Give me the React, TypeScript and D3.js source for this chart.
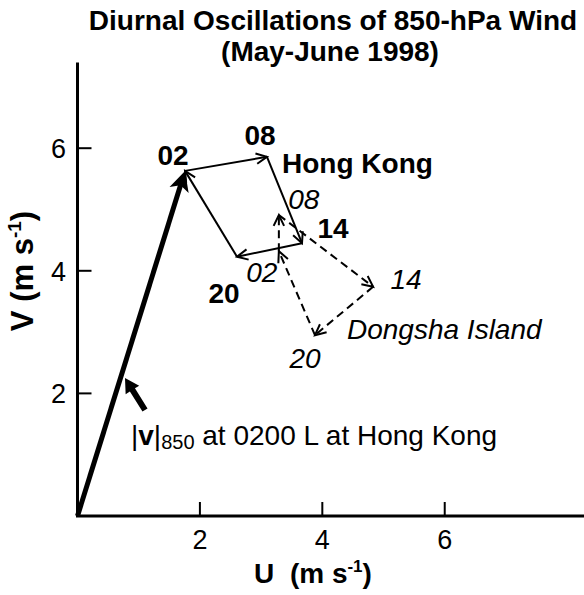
import React from "react";
import * as d3 from "d3";

const W = 584;
const H = 595;

// Hong Kong hodograph (solid), local times
const hkTimes = ["02", "08", "14", "20"];
const hkU = [1.757, 3.096, 3.668, 2.606];
const hkV = [5.63, 5.86, 4.45, 4.23];
// Dongsha Island hodograph (dashed)
const dsTimes = ["02", "08", "14", "20"];
const dsU = [3.29, 3.29, 4.83, 3.88];
const dsV = [4.32, 4.91, 3.74, 2.95];

const xTicks = [2, 4, 6];
const yTicks = [2, 4, 6];

// annotation pointer (data units): tail -> tip
const pointerTail = [1.103, 1.729];
const pointerTip = [0.776, 2.251];

const FONT = "'Liberation Sans', Arial, Helvetica, sans-serif";

type P = [number, number];

function vHead(tip: P, from: P, len = 12, ang = 0.45): string {
  const a = Math.atan2(from[1] - tip[1], from[0] - tip[0]);
  const p1: P = [tip[0] + len * Math.cos(a + ang), tip[1] + len * Math.sin(a + ang)];
  const p2: P = [tip[0] + len * Math.cos(a - ang), tip[1] + len * Math.sin(a - ang)];
  return `M${p1[0]},${p1[1]}L${tip[0]},${tip[1]}L${p2[0]},${p2[1]}`;
}

function filledHead(tip: P, from: P, len: number, half: number, notch: number): string {
  const a = Math.atan2(tip[1] - from[1], tip[0] - from[0]);
  const ux = Math.cos(a), uy = Math.sin(a);
  const nx = -uy, ny = ux;
  const bx = tip[0] - ux * len, by = tip[1] - uy * len;
  const cx = tip[0] - ux * (len - notch), cy = tip[1] - uy * (len - notch);
  return `M${tip[0]},${tip[1]}L${bx + nx * half},${by + ny * half}L${cx},${cy}L${bx - nx * half},${by - ny * half}Z`;
}

function fatArrow(tail: P, tip: P, shaftHalf: number, headLen: number, headHalf: number): string {
  const a = Math.atan2(tip[1] - tail[1], tip[0] - tail[0]);
  const ux = Math.cos(a), uy = Math.sin(a);
  const nx = -uy, ny = ux;
  const hx = tip[0] - ux * headLen, hy = tip[1] - uy * headLen;
  const pts: P[] = [
    [tail[0] + nx * shaftHalf, tail[1] + ny * shaftHalf],
    [hx + nx * shaftHalf, hy + ny * shaftHalf],
    [hx + nx * headHalf, hy + ny * headHalf],
    tip,
    [hx - nx * headHalf, hy - ny * headHalf],
    [hx - nx * shaftHalf, hy - ny * shaftHalf],
    [tail[0] - nx * shaftHalf, tail[1] - ny * shaftHalf],
  ];
  return "M" + pts.map((p) => p.join(",")).join("L") + "Z";
}

const hkLabelOff: P[] = [[-12, -6], [-7, -12], [31, -5], [-13, 46]];
const dsLabelOff: P[] = [[-17, 31], [25, -6], [33, 2], [-10, 33]];

export default function App() {
  const x = d3.scaleLinear().domain([0, 8.3]).range([77.5, 585.5]);
  const y = d3.scaleLinear().domain([0, 7.4]).range([516, 516 - 7.4 * 61.3]);

  const hk: P[] = hkU.map((u, i) => [x(u), y(hkV[i])]);
  const ds: P[] = dsU.map((u, i) => [x(u), y(dsV[i])]);
  const origin: P = [x(0), y(0)];

  const segs = (pts: P[]) => pts.map((p, i) => [p, pts[(i + 1) % pts.length]] as [P, P]);

  return (
    <svg width={W} height={H} style={{ display: "block", position: "absolute", left: 0, top: 0, background: "#fff" }}
      fontFamily={FONT}>
      <rect width={W} height={H} fill="#fff" />
      {/* Title */}
      <text x={333} y={30} textAnchor="middle" fontSize={28} fontWeight="bold">
        Diurnal Oscillations of 850-hPa Wind
      </text>
      <text x={330} y={61} textAnchor="middle" fontSize={28} fontWeight="bold">
        (May-June 1998)
      </text>

      {/* Axes */}
      <line x1={x(0)} y1={y(0)} x2={x(0)} y2={y(7.4)} stroke="#000" strokeWidth={3} />
      <line x1={x(0) - 1.5} y1={y(0)} x2={x(8.3)} y2={y(0)} stroke="#000" strokeWidth={3} />
      {xTicks.map((t) => (
        <g key={"xt" + t}>
          <line x1={x(t)} x2={x(t)} y1={y(0)} y2={y(0) - 14} stroke="#000" strokeWidth={2} />
          <text x={x(t)} y={549} textAnchor="middle" fontSize={27}>{t}</text>
        </g>
      ))}
      {yTicks.map((t) => (
        <g key={"yt" + t}>
          <line x1={x(0)} x2={x(0) + 14} y1={y(t)} y2={y(t)} stroke="#000" strokeWidth={2} />
          <text x={66} y={y(t) + 10} textAnchor="end" fontSize={27}>{t}</text>
        </g>
      ))}
      {/* Axis titles */}
      <text x={313} y={583} textAnchor="middle" fontSize={28} fontWeight="bold">
        U{"\u00a0\u00a0"}(m s<tspan fontSize={17} dy={-11}>-1</tspan><tspan dy={11}>)</tspan>
      </text>
      <text transform={`translate(33,271) rotate(-90)`} textAnchor="middle" fontSize={31} fontWeight="bold">
        V{"\u00a0"}(m s<tspan fontSize={19} dy={-12}>-1</tspan><tspan dy={12}>)</tspan>
      </text>

      {/* Mean vector at 0200 L Hong Kong */}
      {(() => {
        const tip = hk[0];
        const a = Math.atan2(tip[1] - origin[1], tip[0] - origin[0]);
        const end: P = [tip[0] - Math.cos(a) * 12, tip[1] - Math.sin(a) * 12];
        return (
          <g>
            <line x1={origin[0]} y1={origin[1]} x2={end[0]} y2={end[1]} stroke="#000" strokeWidth={5} />
            <path d={filledHead(tip, origin, 20, 10, 5)} fill="#000" />
          </g>
        );
      })()}

      {/* Hong Kong hodograph */}
      {segs(hk).map(([a, b], i) => (
        <g key={"hk" + i}>
          <line x1={a[0]} y1={a[1]} x2={b[0]} y2={b[1]} stroke="#000" strokeWidth={2} />
          <path d={vHead(b, a)} fill="none" stroke="#000" strokeWidth={2} />
        </g>
      ))}
      {/* Dongsha hodograph */}
      {segs(ds).map(([a, b], i) => (
        <g key={"ds" + i}>
          <line x1={a[0]} y1={a[1]} x2={b[0]} y2={b[1]} stroke="#000" strokeWidth={2} strokeDasharray="8,5" />
          <path d={vHead(b, a)} fill="none" stroke="#000" strokeWidth={2} />
        </g>
      ))}

      {/* time labels */}
      {hk.map((p, i) => (
        <text key={"hkl" + i} x={p[0] + hkLabelOff[i][0]} y={p[1] + hkLabelOff[i][1]}
          textAnchor="middle" fontSize={28} fontWeight="bold">{hkTimes[i]}</text>
      ))}
      {ds.map((p, i) => (
        <text key={"dsl" + i} x={p[0] + dsLabelOff[i][0]} y={p[1] + dsLabelOff[i][1]}
          textAnchor="middle" fontSize={28} fontStyle="italic">{dsTimes[i]}</text>
      ))}
      <text x={282} y={173} fontSize={28} fontWeight="bold">Hong Kong</text>
      <text x={347} y={339} fontSize={28} fontStyle="italic">Dongsha Island</text>

      {/* annotation */}
      <path d={fatArrow([x(pointerTail[0]), y(pointerTail[1])], [x(pointerTip[0]), y(pointerTip[1])], 3, 14, 8)} fill="#000" />
      <text x={131} y={445} fontSize={28}>
        |<tspan fontWeight="bold">v</tspan>|<tspan fontSize={20} dy={4}>850</tspan><tspan dy={-4}> at 0200 L at Hong Kong</tspan>
      </text>
    </svg>
  );
}
